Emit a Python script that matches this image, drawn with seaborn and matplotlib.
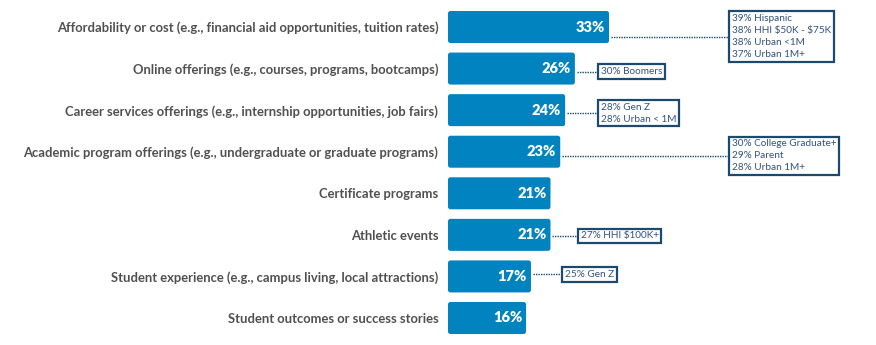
import matplotlib
matplotlib.use("Agg")
import matplotlib.pyplot as plt
import matplotlib.transforms as mtransforms
from matplotlib.patches import FancyBboxPatch
import seaborn as sns
import pandas as pd

categories = [
    "Affordability or cost (e.g., financial aid opportunities, tuition rates)",
    "Online offerings (e.g., courses, programs, bootcamps)",
    "Career services offerings (e.g., internship opportunities, job fairs)",
    "Academic program offerings (e.g., undergraduate or graduate programs)",
    "Certificate programs",
    "Athletic events",
    "Student experience (e.g., campus living, local attractions)",
    "Student outcomes or success stories",
]
values = [33, 26, 24, 23, 21, 21, 17, 16]
callouts = [
    ["39% Hispanic", "38% HHI \\$50K - \\$75K", "38% Urban <1M", "37% Urban 1M+"],
    ["30% Boomers"],
    ["28% Gen Z", "28% Urban < 1M"],
    ["30% College Graduate+", "29% Parent", "28% Urban 1M+"],
    [],
    ["27% HHI \\$100K+"],
    ["25% Gen Z"],
    [],
]

# layout (pixels)
W, H = 876, 345
ax_left_px = 448
px_per_unit = 4.88
row0_px, row_step_px = 27, 41.57
bar_h_px = 32
box_left_px = [728, 597, 597, 728, None, 577, 561, None]
box_dy_px = [9.5, 3.0, 3.0, 4.0, 0, 1.0, -2.0, 0]

BAR = "#0083BF"
NAVY = "#1B4A6E"
LABEL = "#505050"
TXT = "#34527F"

sns.set_theme(style="white")
plt.rcParams["font.family"] = ["Lato", "DejaVu Sans"]

fig = plt.figure(figsize=(W / 100, H / 100), dpi=100)
ax = fig.add_axes([ax_left_px / W, 0, 1 - ax_left_px / W, 1])

df = pd.DataFrame({"cat": categories, "val": values})
sns.barplot(data=df, x="val", y="cat", orient="h", color=BAR,
            width=bar_h_px / row_step_px, saturation=1, ax=ax)

xmax = (W - ax_left_px) / px_per_unit
ax.set_xlim(0, xmax)
top = -row0_px / row_step_px
bottom = 7 + (H - (row0_px + 7 * row_step_px)) / row_step_px
ax.set_ylim(bottom, top)

# rounded bars
units_y_per_px = 1 / row_step_px
units_x_per_px = 1 / px_per_unit
aspect = units_y_per_px / units_x_per_px
for p in list(ax.patches):
    x0, y0, w, h = p.get_x(), p.get_y(), p.get_width(), p.get_height()
    p.remove()
    fb = FancyBboxPatch((x0, y0), w, h,
                        boxstyle=f"round,pad=0,rounding_size={2.5 * units_x_per_px}",
                        mutation_aspect=aspect, fc=BAR, ec="none")
    ax.add_patch(fb)

for s in ax.spines.values():
    s.set_visible(False)
ax.set_xticks([])
ax.set_xlabel("")
ax.set_ylabel("")
ax.tick_params(axis="y", length=0, pad=7)
for t in ax.get_yticklabels():
    t.set_fontweight("bold")
    t.set_fontsize(9.4)
    t.set_color(LABEL)

# value labels
for i, v in enumerate(values):
    ax.text(v - 4 * units_x_per_px, i, f"{v}%", ha="right", va="center",
            color="white", fontsize=10.5, fontweight="heavy")

# callouts
fs = 7.2
pad_pt = 1.9
toff = mtransforms.offset_copy(ax.transData, fig=fig, x=pad_pt + 0.8, y=0, units="points")
for i, (lines, bl, dy) in enumerate(zip(callouts, box_left_px, box_dy_px)):
    if not lines:
        continue
    bx = (bl - ax_left_px) / px_per_unit
    cy = i + dy * units_y_per_px
    ax.plot([values[i] + 2 * units_x_per_px, bx], [cy, cy], ls=(0, (1, 0.8)),
            lw=1.0, color=NAVY, solid_capstyle="butt")
    ax.text(bx, cy, "\n".join(lines), transform=toff, ha="left", va="center",
            fontsize=fs, color=TXT, linespacing=1.42,
            bbox=dict(boxstyle=f"square,pad={pad_pt / fs}", fc="white",
                      ec=NAVY, lw=1.6))

fig.savefig("out.png", dpi=100)
